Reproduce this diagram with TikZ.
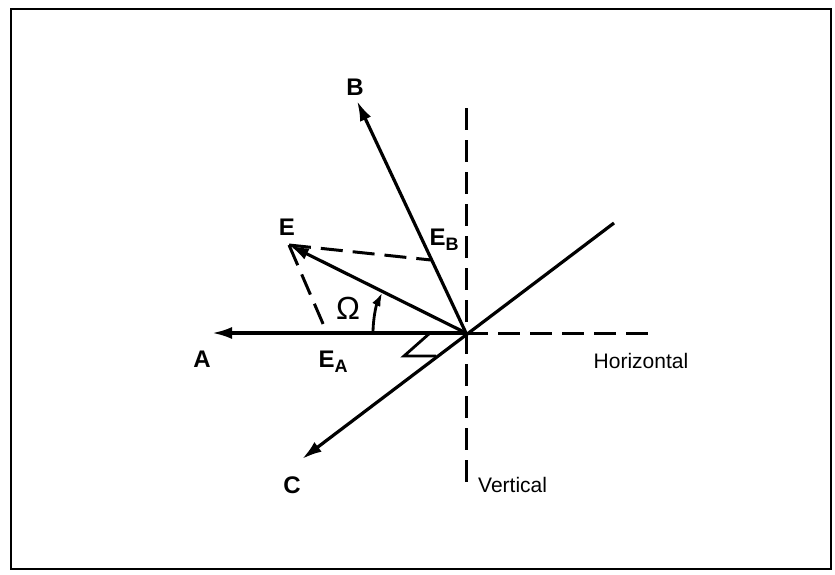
\documentclass[tikz,border=0pt]{standalone}
\usepackage{fontspec}
\setmainfont{Liberation Sans}
\usetikzlibrary{arrows.meta,calc}
\begin{document}
\begin{tikzpicture}[x=1pt,y=-1pt,
  vec/.style={line width=3.2pt,-{Latex[length=20pt,width=12pt]}},
  dashline/.style={line width=3pt,dash pattern=on 22pt off 10pt},
  thinline/.style={line width=2.8pt},
  biglabel/.style={font=\fontsize{24}{26}\selectfont\bfseries,inner sep=0pt},
  axislabel/.style={font=\fontsize{21}{23}\selectfont,inner sep=0pt},
  frame/.style={line width=2.4pt}]
\useasboundingbox (0,0) rectangle (835,574);
\draw[frame] (11,9) rectangle (831,569);
% points
\coordinate (O) at (466,333);
\coordinate (Atip) at (212,333);
\coordinate (Btip) at (357,101);
\coordinate (Ctip) at (302,459);
\coordinate (UR) at (614,223);
\coordinate (Etip) at (289,245);
\coordinate (Hend) at (657,333);
\coordinate (Vtop) at (466,108);
\coordinate (Vbot) at (466,490);
\coordinate (FA) at (327,333);
\coordinate (FB) at (431,260);
\coordinate (Z1) at (430,333);
\coordinate (Z2) at (404,356);
\coordinate (Z3) at ($(O)!0.1825!(Ctip)$);
\coordinate (ArcStart) at (373,333);
% axes
\draw[dashline] (O) -- (Hend);
\draw[dashline] (Vtop) -- (Vbot);
% vectors
\draw[vec] (O) -- (Atip);
\draw[vec] (O) -- (Btip);
\draw[vec] (UR) -- (Ctip);
\draw[vec] (O) -- (Etip);
% components
\draw[dashline] (Etip) -- (FB);
\draw[dashline] (Etip) -- (FA);
% right-angle marker
\draw[thinline] (Z1) -- (Z2) -- (Z3);
% angle arc
\draw[thinline,-{Latex[length=14pt,width=9pt]}] (ArcStart) arc[start angle=180,end angle=206,radius=93];
% labels
\node[biglabel] (lA) at (202,359) {A};
\node[biglabel] (lB) at (355,87) {B};
\node[biglabel] (lC) at (292,485) {C};
\node[biglabel] (lE) at (287,227) {E};
\node[biglabel] (lEA) at (333,362) {E\raisebox{-5pt}{\fontsize{18}{18}\selectfont A}};
\node[biglabel] (lEB) at (444,240) {E\raisebox{-5pt}{\fontsize{18}{18}\selectfont B}};
\node[font=\fontsize{32}{32}\selectfont,inner sep=0pt] (lOm) at (348,308) {Ω};
\node[axislabel] (lH) at (641,361) {Horizontal};
\node[axislabel,anchor=west] (lV) at (478,485) {Vertical};
\end{tikzpicture}
\end{document}
